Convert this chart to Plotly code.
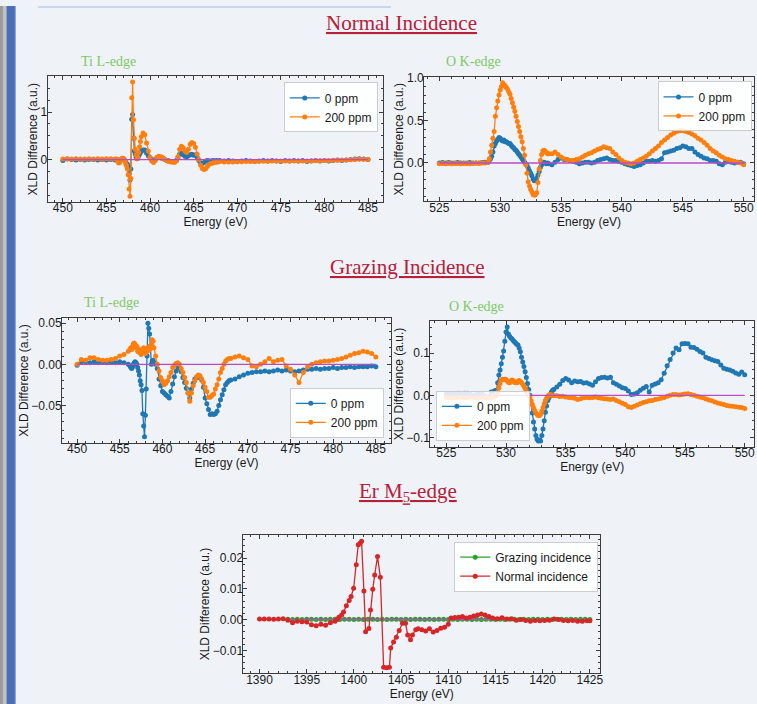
import plotly.graph_objects as go

W, H = 757, 704


def grid(start, step, n):
    return [round(start + step * i, 3) for i in range(n)]


# ---------------- Ti L-edge energy grid (eV) ----------------
ti_energy = grid(450.0, 0.5, 13) + grid(456.2, 0.1, 29) + grid(459.2, 0.2, 45) + grid(468.5, 0.5, 34)

# Normal incidence, Ti L-edge
ti_norm_0ppm = [
    -0.02, 0.01, 0.0, -0.01, 0.0, -0.01, 0.0, 0.0, -0.01, 0.0, -0.01, 0.0, -0.01,
    0.0, -0.02, -0.04, -0.03, -0.01, 0.0, 0.02, 0.02, 0.01, -0.02,
    -0.05, -0.08, -0.1, -0.15, -0.3, -0.43, -0.2, 0.85, 0.95, 0.45,
    0.18, 0.12, 0.05, 0.02, 0.03, 0.08, 0.12, 0.15, 0.18,
    0.2, 0.2, 0.14, 0.08, 0.04, 0.0, -0.02, 0.0, 0.04, 0.05,
    0.04, 0.03, 0.01, -0.01, -0.02, -0.03, -0.04, -0.04, -0.04, -0.02,
    0.04, 0.12, 0.14, 0.1, 0.07, 0.06, 0.08, 0.1, 0.11, 0.09,
    0.1, 0.05, -0.02, -0.07, -0.08, -0.06, -0.03, -0.02, -0.03, -0.03,
    -0.02, -0.03, -0.02, -0.03, -0.02,
    -0.03, -0.02, -0.03, -0.04, -0.03, -0.02, -0.03, -0.04, -0.03, -0.02,
    -0.03, -0.02, -0.03, -0.04, -0.02, -0.03, -0.02, -0.03, -0.02, -0.04,
    -0.03, -0.02, -0.03, -0.02, -0.03, -0.02, -0.01, -0.02, -0.01, 0.0,
    0.01, 0.02, 0.01, 0.0,
]
ti_norm_200ppm = [
    0.01, 0.02, 0.01, 0.02, 0.01, 0.01, 0.02, 0.01, 0.02, 0.01, 0.02, 0.02, 0.01,
    0.01, -0.03, -0.07, -0.06, -0.02, 0.01, 0.03, 0.03, 0.02, -0.03,
    -0.08, -0.13, -0.2, -0.32, -0.62, -0.77, -0.4, 1.3, 1.63, 0.84,
    0.45, 0.22, 0.1, 0.02, 0.05, 0.15, 0.27, 0.38, 0.48,
    0.56, 0.52, 0.35, 0.18, 0.05, -0.03, -0.06, -0.02, 0.05, 0.07,
    0.06, 0.05, 0.02, -0.01, -0.03, -0.04, -0.05, -0.05, -0.06, -0.03,
    0.06, 0.22, 0.28, 0.25, 0.18, 0.15, 0.22, 0.32, 0.36, 0.34,
    0.26, 0.12, 0.0, -0.12, -0.19, -0.21, -0.19, -0.14, -0.1, -0.08,
    -0.07, -0.06, -0.05, -0.05, -0.04,
    -0.05, -0.05, -0.05, -0.045, -0.045, -0.04, -0.04, -0.04, -0.035, -0.035,
    -0.035, -0.03, -0.03, -0.03, -0.03, -0.03, -0.03, -0.03, -0.03, -0.03,
    -0.025, -0.025, -0.025, -0.02, -0.02, -0.015, -0.015, -0.01, -0.01, -0.005,
    0.0, 0.005, 0.005, 0.0,
]

# Grazing incidence, Ti L-edge
ti_graz_0ppm = [
    -0.001, 0.003, 0.003, 0.002, 0.003, 0.002, 0.003, 0.002, 0.003, 0.002, 0.003, 0.002, 0.0,
    -0.002, -0.004, -0.005, -0.003, 0.0, 0.002, 0.003, 0.002, 0.0, -0.004,
    -0.008, -0.013, -0.02, -0.025, -0.032, -0.06, -0.075, -0.088, -0.062, -0.03,
    0.01, 0.05, 0.044, 0.037, 0.02, 0.0, 0.004, 0.005, 0.002,
    0.0, -0.005, -0.018, -0.026, -0.033, -0.035, -0.037, -0.039, -0.041, -0.033,
    -0.024, -0.015, -0.008, -0.003, -0.005, -0.009, -0.016, -0.022, -0.029, -0.035,
    -0.041, -0.03, -0.023, -0.018, -0.016, -0.015, -0.016, -0.019, -0.028, -0.041,
    -0.048, -0.055, -0.061, -0.06, -0.061, -0.06, -0.057, -0.05, -0.043, -0.037,
    -0.031, -0.025, -0.022, -0.02, -0.019,
    -0.018, -0.015, -0.013, -0.011, -0.01, -0.009, -0.009, -0.008, -0.009, -0.008,
    -0.007, -0.008, -0.007, -0.008, -0.009, -0.008, -0.007, -0.006, -0.006, -0.005,
    -0.006, -0.005, -0.005, -0.004, -0.005, -0.004, -0.004, -0.003, -0.004, -0.003,
    -0.003, -0.003, -0.002, -0.003,
]
ti_graz_200ppm = [
    0.0, 0.006, 0.005, 0.008, 0.008, 0.006, 0.005, 0.005, 0.006, 0.007, 0.01, 0.012, 0.016,
    0.018, 0.02, 0.018, 0.022, 0.025, 0.026, 0.024, 0.02, 0.022, 0.016,
    0.015, 0.018, 0.014, 0.012, 0.015, 0.018, 0.02, 0.019, 0.013, 0.015,
    0.016, 0.02, 0.017, 0.022, 0.019, 0.024, 0.03, 0.028, 0.02,
    0.01, 0.0, -0.008, -0.016, -0.02, -0.025, -0.023, -0.02, -0.015, -0.01,
    -0.004, -0.001, 0.001, 0.002, 0.0, -0.005, -0.01, -0.016, -0.022, -0.035,
    -0.045, -0.035, -0.026, -0.02, -0.015, -0.013, -0.014, -0.018, -0.022, -0.028,
    -0.033, -0.04, -0.04, -0.038, -0.036, -0.03, -0.025, -0.018, -0.01, -0.005,
    0.0, 0.004, 0.006, 0.007, 0.007,
    0.009, 0.01, 0.008, 0.006, -0.002, -0.003, 0.0, 0.003, 0.007, 0.003,
    0.005, 0.006, -0.002, -0.006, -0.013, -0.022, -0.01, -0.003, 0.0, 0.002,
    0.003, 0.004, 0.004, 0.005, 0.006, 0.007, 0.009, 0.011, 0.013, 0.014,
    0.016, 0.015, 0.013, 0.009,
]

# ---------------- O K-edge energy grid (eV) ----------------
o_energy = grid(525.0, 0.25, 16) + grid(529.0, 0.1, 51) + grid(534.25, 0.25, 64)

o_norm_0ppm = [
    0.0, 0.005, 0.0, 0.005, 0.0, 0.0, 0.005, 0.0, 0.0, 0.0, 0.005, 0.0, 0.0, 0.0, 0.005, 0.01,
    0.01, 0.03, 0.05, 0.08, 0.13, 0.2, 0.23, 0.26, 0.28, 0.3,
    0.29, 0.27, 0.26, 0.27, 0.25, 0.25, 0.24, 0.23, 0.23, 0.21,
    0.19, 0.18, 0.16, 0.15, 0.13, 0.11, 0.09, 0.07, 0.05, 0.03,
    0.01, -0.01, -0.03, -0.06, -0.09, -0.12, -0.15, -0.19, -0.21, -0.2,
    -0.18, -0.14, -0.1, -0.05, -0.02, 0.0, 0.01, 0.0, -0.01, 0.0,
    -0.01,
    -0.02, 0.01, 0.04,
    0.06, 0.04, 0.04, 0.03,
    0.02, 0.01, -0.01, 0.0,
    0.01, 0.01, 0.0, 0.01,
    0.03, 0.04, 0.05, 0.06,
    0.04, 0.03, 0.03, 0.02,
    0.01, -0.01, -0.02, -0.03,
    -0.04, -0.03, -0.02, 0.0,
    0.02, 0.02, 0.03, 0.02,
    0.03, 0.05, 0.12, 0.13,
    0.14, 0.15, 0.17, 0.18,
    0.2, 0.19, 0.17, 0.17,
    0.13, 0.1, 0.08, 0.06,
    0.05, 0.03, 0.03, 0.02,
    -0.01, -0.02, 0.01, 0.02,
    0.01, 0.0, 0.01, 0.01,
    -0.01,
]
o_norm_200ppm = [
    -0.01, -0.005, -0.01, -0.005, -0.01, -0.005, -0.005, -0.01, -0.005, -0.005, -0.01, -0.005, 0.0, -0.005, 0.0, 0.0,
    0.01, 0.05, 0.13, 0.21, 0.29, 0.37, 0.55, 0.65, 0.73, 0.8,
    0.86, 0.9, 0.945, 0.92, 0.91, 0.89, 0.87, 0.84, 0.81, 0.76,
    0.71, 0.66, 0.61, 0.55, 0.49, 0.43, 0.37, 0.31, 0.25, 0.17,
    0.09, -0.02, -0.12, -0.22, -0.27, -0.31, -0.34, -0.37, -0.38, -0.37,
    -0.35, -0.23, -0.07, 0.03, 0.1, 0.14, 0.15, 0.14, 0.12, 0.11,
    0.11,
    0.11, 0.13, 0.1,
    0.07, 0.05, 0.04, 0.03,
    0.03, 0.04, 0.05, 0.07,
    0.09, 0.11, 0.12, 0.14,
    0.16, 0.17, 0.19, 0.18,
    0.17, 0.13, 0.1, 0.06,
    0.03, 0.01, 0.0, -0.01,
    0.0, 0.02, 0.04, 0.06,
    0.08, 0.11, 0.14, 0.17,
    0.2, 0.24, 0.27, 0.3,
    0.33, 0.35, 0.37, 0.38,
    0.38, 0.37, 0.36, 0.34,
    0.32, 0.29, 0.27, 0.24,
    0.21, 0.17, 0.14, 0.12,
    0.09, 0.07, 0.05, 0.04,
    0.03, 0.02, 0.01, 0.0,
    -0.02,
]

o_graz_0ppm = [
    0.003, 0.004, 0.003, 0.004, 0.005, 0.004, 0.005, 0.005, 0.003, 0.0, 0.002, 0.004, 0.003, -0.002, -0.004, 0.008,
    0.01, 0.011, 0.012, 0.03, 0.048, 0.06, 0.075, 0.09, 0.105, 0.128,
    0.15, 0.162, 0.145, 0.14, 0.136, 0.134, 0.13, 0.127, 0.124, 0.121,
    0.119, 0.112, 0.103, 0.09, 0.079, 0.068, 0.056, 0.042, 0.028, 0.014,
    0.0, -0.02, -0.042, -0.063, -0.08, -0.095, -0.104, -0.108, -0.106, -0.108,
    -0.095, -0.08, -0.06, -0.04, -0.025, -0.012, -0.006, 0.0, 0.008, 0.012,
    0.014,
    0.02, 0.026, 0.035,
    0.04, 0.036, 0.03, 0.034,
    0.032, 0.033, 0.029, 0.03,
    0.027, 0.024, 0.032, 0.04,
    0.042, 0.043, 0.041, 0.043,
    0.03, 0.026, 0.022, 0.018,
    0.016, 0.01, 0.002, 0.003,
    0.006, 0.012, 0.017, 0.021,
    0.008, 0.024, 0.027, 0.03,
    0.037, 0.052, 0.07, 0.085,
    0.1, 0.112, 0.108, 0.122,
    0.123, 0.122, 0.114, 0.113,
    0.109, 0.104, 0.1, 0.09,
    0.087, 0.084, 0.082, 0.08,
    0.072, 0.064, 0.062, 0.06,
    0.057, 0.053, 0.05, 0.055,
    0.049,
]
o_graz_200ppm = [
    -0.005, -0.006, -0.005, -0.006, -0.005, -0.004, -0.006, -0.005, -0.004, -0.005, -0.006, -0.005, -0.004, -0.006, -0.005, -0.005,
    -0.004, -0.002, 0.002, 0.008, 0.018, 0.028, 0.036, 0.038, 0.037, 0.038,
    0.038, 0.034, 0.031, 0.03, 0.034, 0.036, 0.035, 0.031, 0.03, 0.03,
    0.034, 0.035, 0.033, 0.03, 0.026, 0.022, 0.016, 0.01, 0.004, -0.001,
    -0.005, -0.013, -0.021, -0.029, -0.036, -0.042, -0.045, -0.048, -0.048, -0.045,
    -0.038, -0.029, -0.02, -0.012, -0.007, -0.002, 0.001, 0.002, 0.001, 0.0,
    -0.001,
    -0.001, -0.003, -0.002,
    -0.004, -0.005, -0.006, -0.007,
    -0.01, -0.008, -0.006, -0.005,
    -0.006, -0.005, -0.004, -0.006,
    -0.007, -0.008, -0.009, -0.01,
    -0.009, -0.012, -0.015, -0.019,
    -0.022, -0.027, -0.029, -0.026,
    -0.023, -0.02, -0.017, -0.015,
    -0.013, -0.012, -0.01, -0.009,
    -0.007, -0.005, -0.002, 0.0,
    0.002, 0.002, 0.001, 0.002,
    0.003, 0.004, 0.002, 0.0,
    -0.002, -0.004, -0.006, -0.009,
    -0.011, -0.013, -0.016, -0.018,
    -0.02, -0.022, -0.024, -0.025,
    -0.026, -0.027, -0.028, -0.029,
    -0.031,
]

# ---------------- Er M5-edge ----------------
er_graz_energy = grid(1393.0, 0.5, 65)
er_grazing = [
    0.0001, 0.0, 0.0001, 0.0, 0.0001, 0.0001, 0.0, 0.0001, 0.0, 0.0001,
    0.0001, 0.0, 0.0001, 0.0001, 0.0, 0.0001, 0.0, 0.0001, 0.0001, 0.0,
    0.0001, 0.0, 0.0001, 0.0001, 0.0, 0.0001, 0.0, 0.0001, 0.0001, 0.0,
    0.0001, 0.0, 0.0001, 0.0001, 0.0, 0.0001, 0.0, 0.0001, 0.0001, 0.0,
    0.0001, 0.0, 0.0001, 0.0001, 0.0, 0.0001, 0.0, 0.0001, 0.0001, 0.0,
    0.0001, 0.0, 0.0001, 0.0001, 0.0, 0.0001, 0.0, 0.0001, 0.0001, 0.0,
    0.0001, 0.0, 0.0001, 0.0001, 0.0,
]
er_norm_energy = [
    1390.0, 1390.5, 1391.0, 1391.5, 1392.0, 1392.5, 1393.0, 1393.5, 1394.0, 1394.5,
    1395.0, 1395.5, 1396.0, 1396.5, 1397.0, 1397.5, 1398.0, 1398.2, 1398.4, 1398.7,
    1398.9, 1399.2, 1399.5, 1399.7, 1399.97, 1400.25, 1400.46, 1400.65, 1400.81, 1401.06,
    1401.24, 1401.59, 1401.76, 1402.0, 1402.2, 1402.5, 1402.8, 1403.15, 1403.45, 1403.76,
    1403.9, 1404.2, 1404.5, 1404.8, 1405.15, 1405.47, 1405.7, 1406.0, 1406.2, 1406.55,
    1406.8, 1407.2, 1407.6, 1408.0, 1408.4, 1408.8, 1409.2, 1409.6, 1410.0, 1410.3,
    1410.7, 1411.1, 1411.5, 1411.9, 1412.3, 1412.7, 1413.1, 1413.5, 1413.9, 1414.3,
    1414.7, 1415.2, 1415.7, 1416.2, 1416.7, 1417.2, 1417.7, 1418.2, 1418.7, 1419.2,
    1419.7, 1420.2, 1420.7, 1421.2, 1421.7, 1422.2, 1422.7, 1423.2, 1423.7, 1424.2,
    1424.7, 1425.0,
]
er_normal = [
    0.0002, 0.0002, 0.0002, 0.0001, 0.0002, 0.0003, -0.0002, -0.001, -0.0005, -0.0007,
    -0.0008, -0.0017, -0.002, -0.0015, -0.0018, -0.001, -0.0005, 0.0, 0.0008, 0.0015,
    0.0025, 0.0045, 0.0062, 0.0075, 0.0102, 0.0178, 0.0243, 0.0248, 0.0255, 0.0093,
    -0.0039, -0.0029, 0.0031, 0.0099, 0.0145, 0.0205, 0.0138, -0.0155, -0.0156, -0.0155,
    -0.0092, -0.0073, -0.0057, -0.0035, -0.0012, -0.0012, -0.005, -0.0065, -0.005, -0.0033,
    -0.003, -0.0033, -0.0037, -0.003, -0.004, -0.0035, -0.0028, -0.0025, -0.0015, 0.0005,
    0.0007, 0.0008, 0.001, 0.0005, 0.0008, 0.0012, 0.0015, 0.0018, 0.0015, 0.001,
    0.0005, 0.0003, 0.0006, 0.0002, 0.0003, -0.0002, 0.0, -0.0003, -0.0005, -0.0003,
    -0.0004, -0.0003, -0.0002, 0.0002, 0.0, -0.0003, -0.0004, -0.0003, -0.0005, -0.0005,
    -0.0004, -0.0004,
]

# zero reference lines
zero_ti_x = [450, 485]
zero_o_x = [525, 550]
zero_er_x = [1393, 1425]
zero_y = [0, 0]

for name, e, vals in [
    ("ti_norm_0ppm", ti_energy, ti_norm_0ppm), ("ti_norm_200ppm", ti_energy, ti_norm_200ppm),
    ("ti_graz_0ppm", ti_energy, ti_graz_0ppm), ("ti_graz_200ppm", ti_energy, ti_graz_200ppm),
    ("o_norm_0ppm", o_energy, o_norm_0ppm), ("o_norm_200ppm", o_energy, o_norm_200ppm),
    ("o_graz_0ppm", o_energy, o_graz_0ppm), ("o_graz_200ppm", o_energy, o_graz_200ppm),
    ("er_grazing", er_graz_energy, er_grazing), ("er_normal", er_norm_energy, er_normal),
]:
    assert len(e) == len(vals), (name, len(e), len(vals))

BLUE, ORANGE, GREEN, RED = "#1f77b4", "#ff7f0e", "#2ca02c", "#d62728"
PURPLE = "#b84cc4"
BG = "#eff3f8"
AX = "#3c3c3c"
SANS = "Liberation Sans, Arial, sans-serif"
SERIF = "Liberation Serif, Times New Roman, serif"

# small calibration of the page rendering (scale/offset)
SX, SY, OY = 0.994, 0.993, 4.5


def px(x):
    return min(1.0, x / SX / W)


def py(y):
    return 1 - ((y - OY) / SY) / H


fig = go.Figure()


def series(x, y, name, color, xa, ya, legend, show=True):
    fig.add_trace(go.Scatter(
        x=x, y=y, name=name, mode="lines+markers",
        line=dict(color=color, width=1.3),
        marker=dict(color=color, size=5, line=dict(width=0)),
        xaxis=xa, yaxis=ya, legend=legend, showlegend=show,
    ))


def zero(x, xa, ya):
    fig.add_trace(go.Scatter(x=x, y=zero_y, mode="lines", line=dict(color=PURPLE, width=1.3),
                             xaxis=xa, yaxis=ya, showlegend=False, hoverinfo="skip"))


# Chart 1: Normal, Ti
series(ti_energy, ti_norm_0ppm, "0 ppm", BLUE, "x", "y", "legend")
series(ti_energy, ti_norm_200ppm, "200 ppm", ORANGE, "x", "y", "legend")
zero(zero_ti_x, "x", "y")
# Chart 2: Normal, O
series(o_energy, o_norm_0ppm, "0 ppm", BLUE, "x2", "y2", "legend2")
series(o_energy, o_norm_200ppm, "200 ppm", ORANGE, "x2", "y2", "legend2")
zero(zero_o_x, "x2", "y2")
# Chart 3: Grazing, Ti
series(ti_energy, ti_graz_0ppm, "0 ppm", BLUE, "x3", "y3", "legend3")
series(ti_energy, ti_graz_200ppm, "200 ppm", ORANGE, "x3", "y3", "legend3")
zero(zero_ti_x, "x3", "y3")
# Chart 4: Grazing, O
series(o_energy, o_graz_0ppm, "0 ppm", BLUE, "x4", "y4", "legend4")
series(o_energy, o_graz_200ppm, "200 ppm", ORANGE, "x4", "y4", "legend4")
zero(zero_o_x, "x4", "y4")
# Chart 5: Er
series(er_graz_energy, er_grazing, "Grazing incidence", GREEN, "x5", "y5", "legend5")
zero(zero_er_x, "x5", "y5")
series(er_norm_energy, er_normal, "Normal incidence", RED, "x5", "y5", "legend5")

TICKFONT = dict(family=SANS, size=12, color="#1a1a1a")


def xaxis(dom, rng, anchor, minor):
    return dict(domain=[px(dom[0]), px(dom[1])], range=rng, anchor=anchor,
                showline=True, linecolor=AX, linewidth=1, mirror="allticks",
                ticks="inside", ticklen=4, tickwidth=1, tickcolor=AX,
                dtick=5, tick0=0, showgrid=False, zeroline=False,
                tickfont=TICKFONT, ticklabelstandoff=-5,
                title=dict(text="Energy (eV)", font=TICKFONT, standoff=0),
                minor=dict(ticks="inside", ticklen=2, tickcolor=AX, dtick=minor, showgrid=False))


def yaxis(dom, rng, anchor, dtick, minor, fmt):
    return dict(domain=[py(dom[1]), py(dom[0])], range=rng, anchor=anchor,
                showline=True, linecolor=AX, linewidth=1, mirror="allticks",
                ticks="inside", ticklen=4, tickwidth=1, tickcolor=AX,
                dtick=dtick, tick0=0, tickformat=fmt, showgrid=False, zeroline=False,
                tickfont=TICKFONT, ticklabelstandoff=-3,
                title=dict(text="XLD Difference (a.u.)", font=TICKFONT, standoff=0),
                minor=dict(ticks="inside", ticklen=2, tickcolor=AX, dtick=minor, showgrid=False))


def legend(x, y, xanchor, yanchor):
    return dict(x=px(x), y=py(y), xanchor=xanchor, yanchor=yanchor, xref="paper", yref="paper",
                bgcolor="rgba(255,255,255,0.85)", bordercolor="#cccccc", borderwidth=1,
                font=dict(family=SANS, size=12, color="#1a1a1a"), itemwidth=30, tracegroupgap=0)


layout = dict(
    width=W, height=H, autosize=False,
    margin=dict(l=0, r=0, t=0, b=0),
    paper_bgcolor=BG, plot_bgcolor=BG,
    xaxis=xaxis((47.5, 382.5), [448.25, 486.75], "y", 1),
    yaxis=yaxis((75, 200.7), [-0.89, 1.75], "x", 1, 0.25, "d"),
    xaxis2=xaxis((423.3, 757), [523.75, 550.85], "y2", 1),
    yaxis2=yaxis((76, 200), [-0.45, 1.008], "x2", 0.5, 0.1, ".1f"),
    xaxis3=xaxis((62, 390), [448.25, 486.75], "y3", 1),
    yaxis3=yaxis((317, 442), [-0.0955, 0.0563], "x3", 0.05, 0.01, ".2f"),
    xaxis4=xaxis((429.5, 757), [523.66, 550.78], "y4", 1),
    yaxis4=yaxis((320, 446), [-0.122, 0.176], "x4", 0.1, 0.02, ".1f"),
    xaxis5=xaxis((243, 599), [1388.3, 1426.1], "y5", 1),
    yaxis5=yaxis((534, 673), [-0.0175, 0.0276], "x5", 0.01, 0.002, ".2f"),
    legend=legend(377, 81, "right", "top"),
    legend2=legend(750, 80, "right", "top"),
    legend3=legend(383, 437, "right", "bottom"),
    legend4=legend(435, 440, "left", "bottom"),
    legend5=legend(597, 541, "right", "top"),
    showlegend=True,
)
fig.update_layout(**layout)

# page decorations (left sidebar stripes, top bar)
shapes = [
    dict(type="rect", xref="paper", yref="paper", x0=0, x1=3 / W, y0=0, y1=1, fillcolor="#9c9c9c", line=dict(width=0), layer="below"),
    dict(type="rect", xref="paper", yref="paper", x0=3 / W, x1=6.5 / W, y0=0, y1=1, fillcolor="#c2c2c2", line=dict(width=0), layer="below"),
    dict(type="rect", xref="paper", yref="paper", x0=6.5 / W, x1=15 / W, y0=0, y1=1, fillcolor="#4a6fb7", line=dict(width=0), layer="below"),
    dict(type="rect", xref="paper", yref="paper", x0=15 / W, x1=16 / W, y0=0, y1=1, fillcolor="#86a3d6", line=dict(width=0), layer="below"),
    dict(type="rect", xref="paper", yref="paper", x0=px(38), x1=px(390), y0=1 - 2 / H, y1=1, fillcolor="#c6d6ef", line=dict(width=0), layer="below"),
]
fig.update_layout(shapes=shapes)

HEAD = "#b5213a"
LGREEN = "#7ec865"


def text(t, x, y, size, color, family=SERIF):
    fig.add_annotation(text=t, x=px(x), y=py(y), xref="paper", yref="paper",
                       xanchor="center", yanchor="middle", showarrow=False,
                       font=dict(family=family, size=size, color=color))


text("<u>Normal Incidence</u>", 401, 21.3, 21, HEAD)
text("<u>Grazing Incidence</u>", 407, 266, 21, HEAD)
text("<u>Er M<sub>5</sub>-edge</u>", 407, 491.5, 21, HEAD)
text("Ti L-edge", 108, 60, 14, LGREEN)
text("O K-edge", 473, 60, 14, LGREEN)
text("Ti L-edge", 111, 301, 14, LGREEN)
text("O K-edge", 476, 305, 14, LGREEN)

fig.write_html("out.html")
